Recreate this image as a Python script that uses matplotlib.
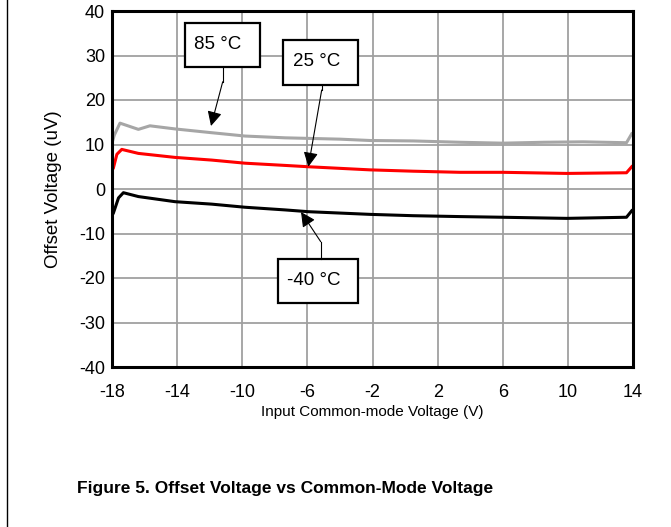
import matplotlib
matplotlib.use("Agg")
import matplotlib.pyplot as plt
from matplotlib.patches import Rectangle
from matplotlib.lines import Line2D

plt.rcParams['font.family'] = ['Liberation Sans', 'DejaVu Sans']

# ---- data ----
x_85 = [-18.0, -17.86, -17.51, -16.38, -15.67, -14.13, -11.88, -9.83, -7.37, -4.0, -2.15, 0.5, 3.38, 6.0, 8.5, 10.93, 13.6, 13.92]
y_85 = [10.3, 12.1, 14.8, 13.4, 14.2, 13.5, 12.65, 11.9, 11.5, 11.2, 10.9, 10.8, 10.5, 10.3, 10.5, 10.6, 10.4, 12.4]

x_25 = [-18.0, -17.92, -17.7, -17.4, -16.38, -14.13, -11.88, -9.83, -7.37, -5.94, -2.15, 0.5, 3.38, 6.0, 9.93, 13.6, 13.92]
y_25 = [4.3, 4.65, 7.8, 8.9, 8.0, 7.1, 6.5, 5.8, 5.3, 5.0, 4.3, 4.0, 3.75, 3.75, 3.5, 3.65, 5.0]

x_m40 = [-18.0, -17.92, -17.6, -17.3, -16.38, -14.13, -11.88, -9.83, -7.37, -5.94, -2.15, 0.5, 3.38, 6.0, 9.93, 13.6, 13.92]
y_m40 = [-5.9, -5.46, -2.0, -0.83, -1.7, -2.85, -3.4, -4.1, -4.7, -5.1, -5.7, -6.0, -6.2, -6.35, -6.6, -6.35, -4.9]

x_ticks = [-18, -14, -10, -6, -2, 2, 6, 10, 14]
y_ticks = [-40, -30, -20, -10, 0, 10, 20, 30, 40]

labels = ['85 °C', '25 °C', '-40 °C']
label_xy = [(-11.49, 32.4), (-5.43, 28.6), (-5.6, -20.45)]
box_xy = [(-13.52, 27.4, 4.61, 9.9), (-7.50, 23.4, 4.61, 10.1), (-7.80, -25.6, 4.91, 9.9)]
arrow_start = [(-11.2, 27.4), (-5.12, 23.4), (-5.18, -15.73)]
arrow_knee = [(-11.2, 24.1), (-5.12, 22.25), (-5.18, -11.84)]
arrow_tip = [(-11.92, 14.16), (-5.94, 5.0), (-6.39, -5.17)]

fig = plt.figure(figsize=(6.71, 5.27), dpi=100)
ax = fig.add_axes([112/671, 1-367/527, (633-112)/671, (367-11)/527])

ax.plot(x_85, y_85, color='#A6A6A6', lw=2.2, zorder=3)
ax.plot(x_25, y_25, color='#FF0000', lw=2.2, zorder=3)
ax.plot(x_m40, y_m40, color='black', lw=2.2, zorder=3)

ax.set_xlim(-18, 14)
ax.set_ylim(-40, 40)
ax.set_xticks(x_ticks)
ax.set_yticks(y_ticks)
ax.set_xticklabels([str(t) for t in x_ticks])
ax.set_yticklabels([str(t) for t in y_ticks])
ax.grid(True, color='#A0A0A0', lw=1.3)
ax.set_axisbelow(True)
ax.tick_params(length=0, labelsize=13)
ax.tick_params(axis='x', pad=12)
ax.tick_params(axis='y', pad=5)
for s in ax.spines.values():
    s.set_linewidth(2.2)
    s.set_zorder(5)

ax.set_xlabel('Input Common-mode Voltage (V)', fontsize=11, labelpad=3)
ax.set_ylabel('Offset Voltage (uV)', fontsize=13.5, labelpad=12)

for lab, (tx, ty), (bx, by, bw, bh), s, k, t in zip(labels, label_xy, box_xy, arrow_start, arrow_knee, arrow_tip):
    ax.add_patch(Rectangle((bx, by), bw, bh, facecolor='white', edgecolor='black', lw=1.6, zorder=6))
    ax.text(tx, ty, lab, ha='center', va='center', fontsize=13.5, zorder=7)
    ax.plot([s[0], k[0]], [s[1], k[1]], color='black', lw=0.8, zorder=6)
    ax.annotate('', xy=t, xytext=k,
                arrowprops=dict(arrowstyle='-|>,head_length=0.8,head_width=0.4', color='black',
                                lw=0.8, shrinkA=0, shrinkB=0, mutation_scale=11), zorder=6)

fig.text(285/671, 1-488/527, 'Figure 5. Offset Voltage vs Common-Mode Voltage',
         ha='center', va='center', fontsize=12.5, fontweight='bold')
fig.add_artist(Line2D([7/671, 7/671], [0, 1], color='black', lw=1.0, transform=fig.transFigure))

fig.savefig('out.png', dpi=100)
